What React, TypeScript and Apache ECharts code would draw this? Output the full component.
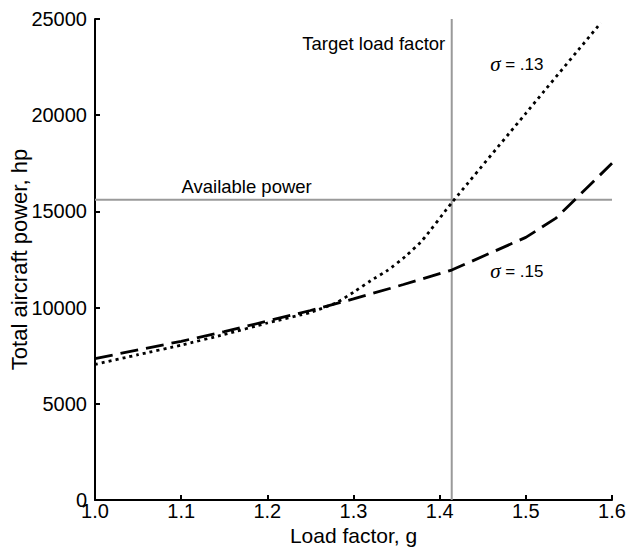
import React, { useEffect, useRef } from "react";
import * as echarts from "echarts";

// Load factor (g) and total aircraft power (hp) for sigma = .13 (dotted)
const sigma13Load = [1.0, 1.05, 1.1, 1.15, 1.2, 1.25, 1.28, 1.3, 1.32, 1.34, 1.36, 1.38, 1.414, 1.5, 1.587];
const sigma13Power = [7050, 7550, 8050, 8600, 9200, 9750, 10250, 10800, 11400, 11950, 12650, 13500, 15450, 20100, 24800];

// sigma = .15 (dashed)
const sigma15Load = [1.0, 1.05, 1.1, 1.15, 1.2, 1.25, 1.3, 1.358, 1.414, 1.458, 1.5, 1.535, 1.6];
const sigma15Power = [7350, 7800, 8250, 8750, 9300, 9850, 10450, 11200, 11950, 12820, 13650, 14650, 17500];

// Reference lines
const targetLoadFactor = 1.414;
const availablePower = 15600;

// Axis ranges
const xMin = 1.0;
const xMax = 1.6;
const xStep = 0.1;
const yMin = 0;
const yMax = 25000;
const yStep = 5000;

// Annotations: text, x, y
const annotationTexts = ["Target load factor", "Available power", "{s|σ} = .13", "{s|σ} = .15"];
const annotationX = [1.414, 1.0998, 1.458, 1.458];
const annotationY = [23750, 16300, 22650, 11900];

const FONT = '"Liberation Sans", Arial, Helvetica, sans-serif';

export default function App() {
  const ref = useRef<HTMLDivElement>(null);

  useEffect(() => {
    document.body.style.margin = "0";
    if (!ref.current) return;
    const chart = echarts.init(ref.current, undefined, { renderer: "svg" });

    const zip = (xs: number[], ys: number[]) => xs.map((x, i) => [x, ys[i]]);

    const annotationData = annotationTexts.map((t, i) => {
      const isTarget = i === 0;
      const isSigma = i >= 2;
      return {
        value: [annotationX[i], annotationY[i]],
        label: {
          show: true,
          formatter: t,
          position: isTarget ? "left" : "right",
          distance: isTarget ? 6 : 0,
          fontSize: isSigma ? 17 : 18.5,
          color: "#000",
          opacity: 1,
          textBorderWidth: 0,
          fontFamily: FONT,
          rich: {
            s: {
              fontFamily: '"Liberation Serif", "DejaVu Serif", serif',
              fontStyle: "italic",
              fontSize: 21,
              color: "#000",
            },
          },
        },
      };
    });

    chart.setOption({
      animation: false,
      backgroundColor: "#fff",
      textStyle: { fontFamily: FONT },
      grid: { left: 95, right: 14, top: 19, bottom: 55, containLabel: false, outerBoundsMode: "none" },
      xAxis: {
        type: "value",
        min: xMin,
        max: xMax,
        interval: xStep,
        name: "Load factor, g",
        nameLocation: "middle",
        nameGap: 25,
        nameMoveOverlap: false,
        nameTextStyle: { fontSize: 21, color: "#000", fontFamily: FONT },
        axisLine: { show: true, onZero: false, lineStyle: { color: "#000", width: 2 } },
        axisTick: { show: true, inside: true, length: 5, lineStyle: { color: "#000", width: 2 } },
        axisLabel: {
          fontSize: 20,
          color: "#000",
          margin: 1,
          fontFamily: FONT,
          formatter: (v: number) => v.toFixed(1),
        },
        splitLine: { show: false },
      },
      yAxis: {
        type: "value",
        min: yMin,
        max: yMax,
        interval: yStep,
        name: "Total aircraft power, hp",
        nameLocation: "middle",
        nameGap: 65,
        nameMoveOverlap: false,
        nameTextStyle: { fontSize: 22, color: "#000", fontFamily: FONT },
        axisLine: { show: true, lineStyle: { color: "#000", width: 2 } },
        axisTick: { show: true, inside: true, length: 5, lineStyle: { color: "#000", width: 2 } },
        axisLabel: {
          fontSize: 20,
          color: "#000",
          margin: 8,
          fontFamily: FONT,
          formatter: (v: number) => String(Math.round(v)),
        },
        splitLine: { show: false },
      },
      series: [
        {
          type: "line",
          name: "Available power",
          data: [
            [xMin, availablePower],
            [xMax, availablePower],
          ],
          symbol: "none",
          silent: true,
          lineStyle: { color: "#9a9a9a", width: 2 },
          z: 1,
        },
        {
          type: "line",
          name: "Target load factor",
          data: [
            [targetLoadFactor, yMin],
            [targetLoadFactor, yMax],
          ],
          symbol: "none",
          silent: true,
          lineStyle: { color: "#9a9a9a", width: 2 },
          z: 1,
        },
        {
          type: "line",
          name: "σ = .13",
          data: zip(sigma13Load, sigma13Power),
          symbol: "none",
          silent: true,
          smooth: 0.15,
          lineStyle: { color: "#000", width: 2.8, type: [3, 4], cap: "butt" },
          z: 3,
        },
        {
          type: "line",
          name: "σ = .15",
          data: zip(sigma15Load, sigma15Power),
          symbol: "none",
          silent: true,
          smooth: false,
          lineStyle: { color: "#000", width: 2.8, type: [18, 8], cap: "butt" },
          z: 3,
        },
        {
          type: "scatter",
          name: "annotations",
          data: annotationData,
          symbol: "circle",
          symbolSize: 1,
          silent: true,
          itemStyle: { color: "rgba(0,0,0,0)" },
          z: 4,
        },
      ],
    });

    return () => {
      chart.dispose();
    };
  }, []);

  return <div ref={ref} style={{ width: 626, height: 555 }} />;
}
